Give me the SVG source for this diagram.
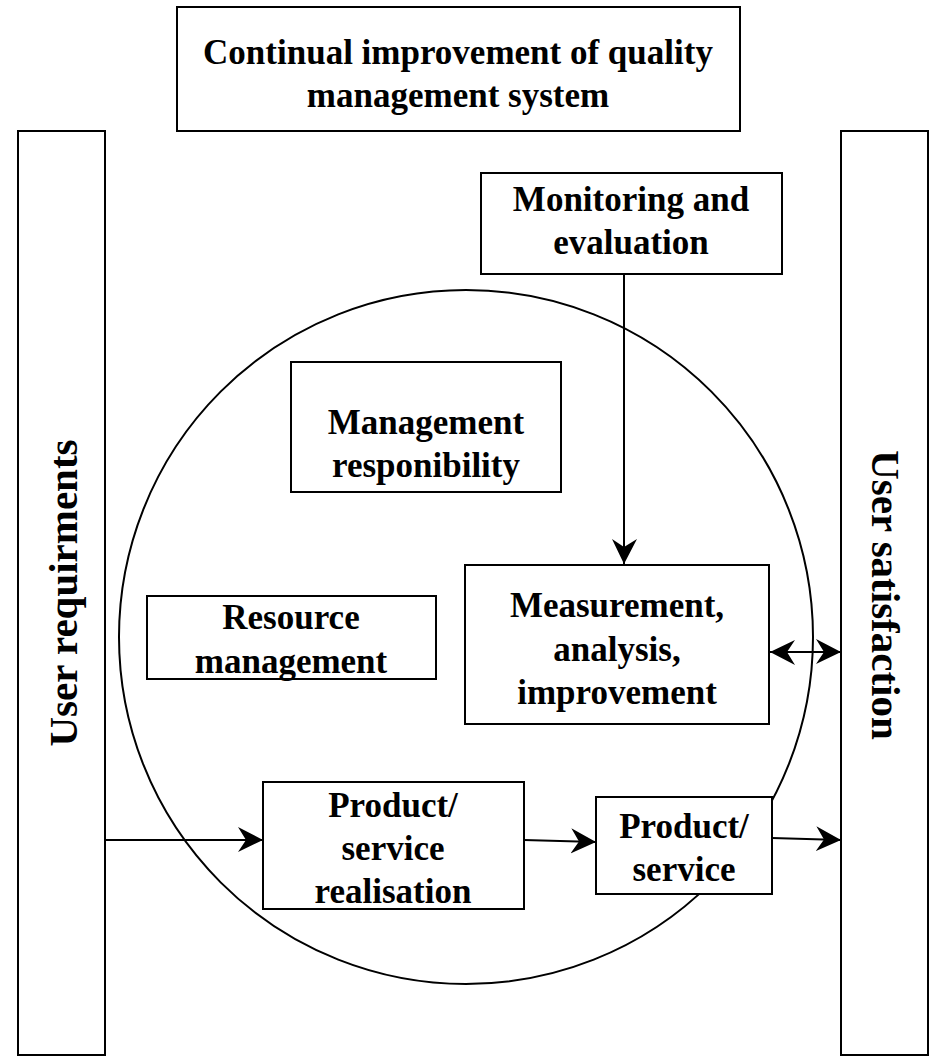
<svg xmlns="http://www.w3.org/2000/svg" width="930" height="1057" viewBox="0 0 930 1057">
<style>
.box{fill:#fff;stroke:#000;stroke-width:2}
.t{font-family:"Liberation Serif","Times New Roman",serif;font-weight:bold;font-size:35px;text-anchor:middle;fill:#000}
.v{font-size:41px}
.c{fill:none;stroke:#000;stroke-width:2}
</style>
<defs>
<marker id="ah" viewBox="0 0 26 26" refX="25" refY="13" markerWidth="26" markerHeight="26" markerUnits="userSpaceOnUse" orient="auto-start-reverse">
<path d="M0,0 L25,13 L0,25 L8,13 Z" fill="#000"/>
</marker>
</defs>
<rect width="930" height="1057" fill="#fff"/>
<g id="circle"><circle cx="466" cy="637" r="347" class="c"/></g>
<g id="top"><rect class="box" x="177" y="7" width="563" height="124"/>
<text class="t" x="458" y="64">Continual improvement of quality</text>
<text class="t" x="458" y="107">management system</text></g>
<g id="userreq"><rect class="box" x="18" y="131" width="87" height="924"/>
<text class="t v" transform="translate(77,593) rotate(-90)">User requirments</text></g>
<g id="usersat"><rect class="box" x="841" y="131" width="87" height="924"/>
<text class="t v" transform="translate(872,595) rotate(90)">User satisfaction</text></g>
<g id="monitor"><rect class="box" x="481" y="173" width="301" height="101"/>
<text class="t" x="631" y="211">Monitoring and</text>
<text class="t" x="631" y="254">evaluation</text></g>
<g id="mgmt"><rect class="box" x="291" y="362" width="270" height="130"/>
<text class="t" x="426" y="434">Management</text>
<text class="t" x="426" y="477">responibility</text></g>
<g id="resource"><rect class="box" x="147" y="596" width="289" height="83"/>
<text class="t" x="291" y="629">Resource</text>
<text class="t" x="291" y="673">management</text></g>
<g id="measure"><rect class="box" x="465" y="565" width="304" height="159"/>
<text class="t" x="617" y="617">Measurement,</text>
<text class="t" x="617" y="661">analysis,</text>
<text class="t" x="617" y="704">improvement</text></g>
<g id="realisation"><rect class="box" x="263" y="782" width="261" height="127"/>
<text class="t" x="393" y="817">Product/</text>
<text class="t" x="393" y="860">service</text>
<text class="t" x="393" y="903">realisation</text></g>
<g id="product"><rect class="box" x="596" y="797" width="176" height="97"/>
<text class="t" x="684" y="838">Product/</text>
<text class="t" x="684" y="881">service</text></g>
<g id="connectors" stroke="#000" stroke-width="2" fill="none">
<line x1="624" y1="274" x2="624" y2="564" marker-end="url(#ah)"/>
<line x1="770" y1="652" x2="841" y2="652" marker-start="url(#ah)" marker-end="url(#ah)"/>
<line x1="105" y1="840" x2="263" y2="840" marker-end="url(#ah)"/>
<line x1="524" y1="840" x2="596" y2="842" marker-end="url(#ah)"/>
<line x1="772" y1="838" x2="841" y2="840" marker-end="url(#ah)"/>
</g>
</svg>
